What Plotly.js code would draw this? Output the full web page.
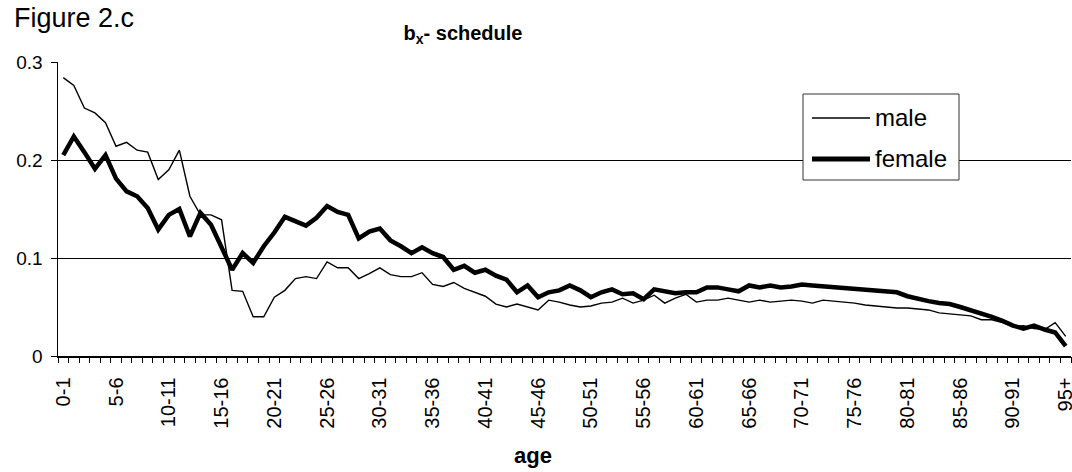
<!DOCTYPE html>
<html>
<head>
<meta charset="utf-8">
<script src="https://cdn.plot.ly/plotly-3.0.1.min.js"></script>
<style>html,body{margin:0;padding:0;background:#fff;}#chart{width:1072px;height:472px;}</style>
</head>
<body>
<div id="chart"></div>
<script>
const ageGroups = ["0-1","1-2","2-3","3-4","4-5","5-6","6-7","7-8","8-9","9-10",
"10-11","11-12","12-13","13-14","14-15","15-16","16-17","17-18","18-19","19-20",
"20-21","21-22","22-23","23-24","24-25","25-26","26-27","27-28","28-29","29-30",
"30-31","31-32","32-33","33-34","34-35","35-36","36-37","37-38","38-39","39-40",
"40-41","41-42","42-43","43-44","44-45","45-46","46-47","47-48","48-49","49-50",
"50-51","51-52","52-53","53-54","54-55","55-56","56-57","57-58","58-59","59-60",
"60-61","61-62","62-63","63-64","64-65","65-66","66-67","67-68","68-69","69-70",
"70-71","71-72","72-73","73-74","74-75","75-76","76-77","77-78","78-79","79-80",
"80-81","81-82","82-83","83-84","84-85","85-86","86-87","87-88","88-89","89-90",
"90-91","91-92","92-93","93-94","94-95","95+"];

const shownTickLabels = ["0-1","5-6","10-11","15-16","20-21","25-26","30-31","35-36","40-41",
"45-46","50-51","55-56","60-61","65-66","70-71","75-76","80-81","85-86","90-91","95+"];

const male = [0.284,0.276,0.253,0.248,0.238,0.214,0.218,0.210,0.208,0.180,
0.190,0.210,0.163,0.144,0.144,0.139,0.067,0.066,0.040,0.040,
0.060,0.067,0.079,0.081,0.079,0.096,0.090,0.090,0.079,0.084,
0.090,0.083,0.081,0.081,0.085,0.073,0.071,0.075,0.069,0.065,
0.061,0.053,0.050,0.053,0.050,0.047,0.057,0.055,0.052,0.050,
0.051,0.054,0.055,0.059,0.054,0.057,0.062,0.054,0.059,0.063,
0.055,0.057,0.057,0.059,0.057,0.055,0.057,0.055,0.056,0.057,
0.056,0.054,0.057,0.056,0.055,0.054,0.052,0.051,0.050,0.049,
0.049,0.048,0.047,0.044,0.043,0.042,0.041,0.037,0.037,0.034,
0.030,0.031,0.028,0.027,0.034,0.020];

const female = [0.205,0.224,0.208,0.191,0.205,0.181,0.168,0.163,0.151,0.129,
0.144,0.150,0.122,0.146,0.134,0.112,0.088,0.105,0.095,0.112,
0.126,0.142,0.138,0.133,0.141,0.153,0.147,0.144,0.120,0.127,
0.130,0.118,0.112,0.105,0.111,0.105,0.101,0.088,0.092,0.085,
0.088,0.082,0.078,0.065,0.072,0.060,0.065,0.067,0.072,0.067,
0.060,0.065,0.068,0.063,0.064,0.058,0.068,0.066,0.064,0.065,
0.065,0.070,0.070,0.068,0.066,0.072,0.070,0.072,0.070,0.071,
0.073,0.072,0.071,0.071,0.070,0.069,0.068,0.067,0.065,0.065,
0.061,0.058,0.056,0.054,0.053,0.050,0.047,0.044,0.040,0.036,
0.031,0.028,0.031,0.027,0.024,0.010];

const seriesNames = ["male","female"];

const W = 1072, H = 472;
const M = {l: 58, r: 1, t: 62, b: 116};
const PW = W - M.l - M.r, PH = H - M.t - M.b;
const px = x => (x - M.l) / PW;
const py = y => (H - M.b - y) / PH;
const FONT = "Liberation Sans, Arial, sans-serif";
const xRange = [-0.5, ageGroups.length - 0.5];

const traces = [
  {x: ageGroups, y: male, name: seriesNames[0], type: "scatter", mode: "lines", xaxis: "x2",
   line: {color: "#000", width: 1.4}, hoverinfo: "x+y"},
  {x: ageGroups, y: female, name: seriesNames[1], type: "scatter", mode: "lines", xaxis: "x",
   line: {color: "#000", width: 4.5}, hoverinfo: "x+y"}
];

const layout = {
  width: W, height: H,
  margin: M,
  paper_bgcolor: "#fff", plot_bgcolor: "#fff",
  showlegend: false,
  font: {family: FONT, color: "#000", size: 18},
  title: {text: "<b>b<sub>x</sub>- schedule</b>", x: 463 / W, xanchor: "center",
          y: 1 - 33 / H, yanchor: "middle", font: {family: FONT, size: 20, color: "#000"}},
  xaxis: {
    type: "category", range: xRange, categoryorder: "array", categoryarray: ageGroups,
    tickmode: "array", tickvals: shownTickLabels, ticktext: shownTickLabels,
    ticks: "", tickangle: -90, tickfont: {family: FONT, size: 20, color: "#000"},
    ticklabelstandoff: 12,
    showline: true, linecolor: "#000", linewidth: 1.5,
    showgrid: false, zeroline: false, fixedrange: true
  },
  xaxis2: {
    type: "category", range: xRange, categoryorder: "array", categoryarray: ageGroups,
    overlaying: "x", anchor: "y", side: "bottom",
    tickmode: "array", tickvals: ageGroups, showticklabels: false,
    tickson: "boundaries", ticks: "outside", ticklen: 6, tickcolor: "#000", tickwidth: 1,
    showline: false, showgrid: false, zeroline: false, fixedrange: true
  },
  yaxis: {
    range: [0, 0.3], tickmode: "array", tickvals: [0, 0.1, 0.2, 0.3], ticktext: ["0","0.1","0.2","0.3"],
    ticks: "outside", ticklen: 6, tickcolor: "#000",
    tickfont: {family: FONT, size: 19, color: "#000"},
    ticklabelstandoff: 4,
    showline: true, linecolor: "#000", linewidth: 1.5,
    showgrid: true, gridcolor: "#000", gridwidth: 1, zeroline: false, fixedrange: true
  },
  shapes: [
    {type: "rect", xref: "paper", yref: "paper", x0: px(803), x1: px(959), y0: py(94), y1: py(180),
     fillcolor: "#fff", line: {color: "#333", width: 1}, layer: "above"},
    {type: "line", xref: "paper", yref: "paper", x0: px(812), x1: px(870), y0: py(118), y1: py(118),
     line: {color: "#000", width: 1.4}, layer: "above"},
    {type: "line", xref: "paper", yref: "paper", x0: px(812), x1: px(870), y0: py(159), y1: py(159),
     line: {color: "#000", width: 5}, layer: "above"}
  ],
  annotations: [
    {text: "Figure 2.c", xref: "paper", yref: "paper", x: px(12), y: py(18), xanchor: "left", yanchor: "middle",
     showarrow: false, font: {family: FONT, size: 27, color: "#000"}},
    {text: "<b>age</b>", xref: "paper", yref: "paper", x: px(533), y: py(455), xanchor: "center", yanchor: "middle",
     showarrow: false, font: {family: FONT, size: 22, color: "#000"}},
    {text: seriesNames[0], xref: "paper", yref: "paper", x: px(873), y: py(117), xanchor: "left", yanchor: "middle",
     showarrow: false, font: {family: FONT, size: 24, color: "#000"}},
    {text: seriesNames[1], xref: "paper", yref: "paper", x: px(873), y: py(158), xanchor: "left", yanchor: "middle",
     showarrow: false, font: {family: FONT, size: 24, color: "#000"}}
  ]
};

Plotly.newPlot("chart", traces, layout, {displayModeBar: false, staticPlot: true});
</script>
</body>
</html>
